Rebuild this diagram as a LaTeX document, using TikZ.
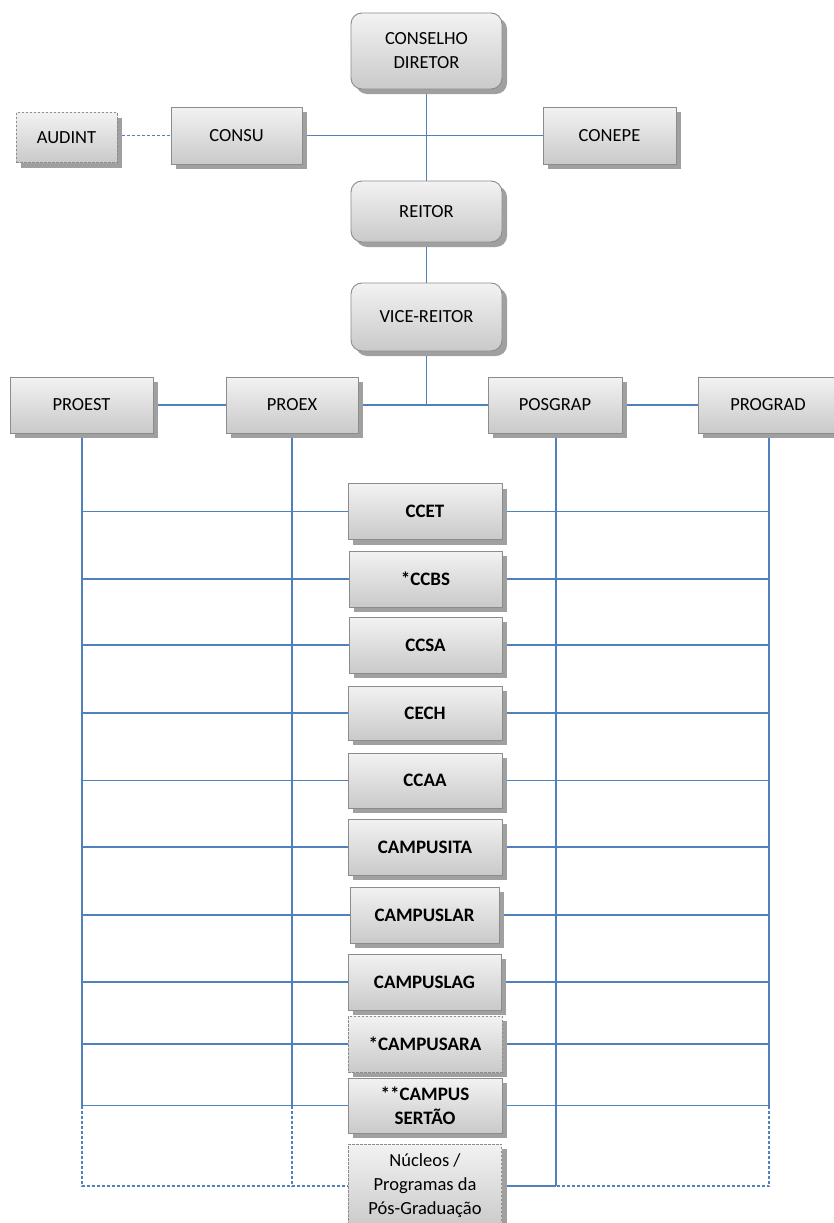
\documentclass[tikz,border=0pt]{standalone}
\usepackage{fontspec}
\setmainfont{Carlito}
\usetikzlibrary{shadows,backgrounds}
\definecolor{conn}{RGB}{79,129,189}
\definecolor{edge}{RGB}{140,140,140}
\definecolor{shad}{RGB}{160,160,160}
\begin{document}
\begin{tikzpicture}[x=1pt,y=-1pt,
  box/.style={draw=edge, line width=0.9pt, top color=gray!10, bottom color=gray!42,
    align=center, inner sep=0pt, font=\fontsize{18.5}{24}\selectfont,
    drop shadow={shadow xshift=5pt, shadow yshift=-5pt, fill=shad, opacity=1}},
  rbox/.style={box, rounded corners=11pt},
  dbox/.style={box, dash pattern=on 2.5pt off 1.5pt},
  unit/.style={box, minimum width=154pt, minimum height=56pt, font=\fontsize{19}{24}\selectfont\bfseries},
  link/.style={draw=conn, line width=1.1pt},
  dlink/.style={link, dash pattern=on 3pt off 2pt}]
\useasboundingbox (0,0) rectangle (833,1223);
% top
\node[rbox, minimum width=151pt, minimum height=76pt] (cd) at (426.5,51) {CONSELHO\\DIRETOR};
\node[box, minimum width=131pt, minimum height=57pt] (consu) at (236.5,135.5) {CONSU};
\node[dbox, minimum width=101pt, minimum height=50pt] (audint) at (66.5,137.5) {AUDINT};
\node[box, minimum width=133pt, minimum height=57pt] (conepe) at (609.5,135.5) {CONEPE};
\node[rbox, minimum width=151pt, minimum height=61pt] (reitor) at (426.5,211.5) {REITOR};
\node[rbox, minimum width=151pt, minimum height=68pt] (vice) at (426.5,317) {VICE-REITOR};
% pro-reitorias
\node[box, minimum width=143pt, minimum height=56pt] (proest) at (81.5,405) {PROEST};
\node[box, minimum width=132pt, minimum height=56pt] (proex) at (292,405) {PROEX};
\node[box, minimum width=134pt, minimum height=56pt] (posgrap) at (555,405) {POSGRAP};
\node[box, minimum width=140pt, minimum height=56pt] (prograd) at (768,405) {PROGRAD};
% units
\node[unit] (ccet) at (425,511.5) {CCET};
\node[unit, minimum width=153pt] (ccbs) at (425.5,579) {*CCBS};
\node[unit, minimum width=153pt] (ccsa) at (425.5,645) {CCSA};
\node[unit, minimum height=54pt] (cech) at (425,713) {CECH};
\node[unit, minimum height=55pt] (ccaa) at (425,780.5) {CCAA};
\node[unit] (cita) at (425,847) {CAMPUSITA};
\node[unit, minimum width=149pt] (clar) at (424.5,915) {CAMPUSLAR};
\node[unit, minimum width=153pt] (clag) at (424.5,982) {CAMPUSLAG};
\node[unit, dash pattern=on 2.5pt off 1.5pt] (cara) at (425,1044) {*CAMPUSARA};
\node[unit, minimum height=55pt] (csert) at (425,1105.5) {**CAMPUS\\SERT\~AO};
\node[dbox, minimum width=153pt, minimum height=84pt] (nuc) at (425,1186) {N\'ucleos /\\Programas da\\P\'os-Gradua\c c\~ao};
\begin{pgfonlayer}{background}
\fill[white] (0,0) rectangle (833,1223);
% top connectors
\draw[link] (cd.south) -- (reitor.north);
\draw[link] (consu.east) -- (conepe.west);
\draw[dlink] (audint.east |- consu.west) -- (consu.west);
\draw[link] (reitor.south) -- (vice.north);
\draw[link] (vice.south) -- (vice.south |- proex.east);
\draw[link] (proex.east) -- (posgrap.west);
\draw[link] (proest.east) -- (proex.west);
\draw[link] (posgrap.east) -- (prograd.west);
% verticals
\draw[link] ([xshift=0.5pt]proest.south) -- ([xshift=0.5pt]proest.south |- csert.west);
\draw[link] (proex.south) -- (proex.south |- csert.west);
\draw[link] ([xshift=1pt]posgrap.south) -- ([xshift=1pt]posgrap.south |- nuc.east);
\draw[link] ([xshift=1pt]prograd.south) -- ([xshift=1pt]prograd.south |- csert.east);
\draw[dlink] ([xshift=0.5pt]proest.south |- csert.west) -- ([xshift=0.5pt]proest.south |- nuc.west) -- (nuc.west);
\draw[dlink] (proex.south |- csert.west) -- (proex.south |- nuc.west);
\draw[dlink] ([xshift=1pt]prograd.south |- csert.east) -- ([xshift=1pt]prograd.south |- nuc.east) -- ([xshift=1pt]posgrap.south |- nuc.east);
\draw[link] (nuc.east) -- ([xshift=1pt]posgrap.south |- nuc.east);
% rows
\foreach \u in {ccet,ccbs,ccsa,cech,ccaa,cita,clar,clag,cara,csert}{
  \draw[link] ([xshift=0.5pt]proest.south |- \u.west) -- (\u.west);
  \draw[link] (\u.east) -- ([xshift=1pt]prograd.south |- \u.east);
}
\end{pgfonlayer}
\end{tikzpicture}
\end{document}
